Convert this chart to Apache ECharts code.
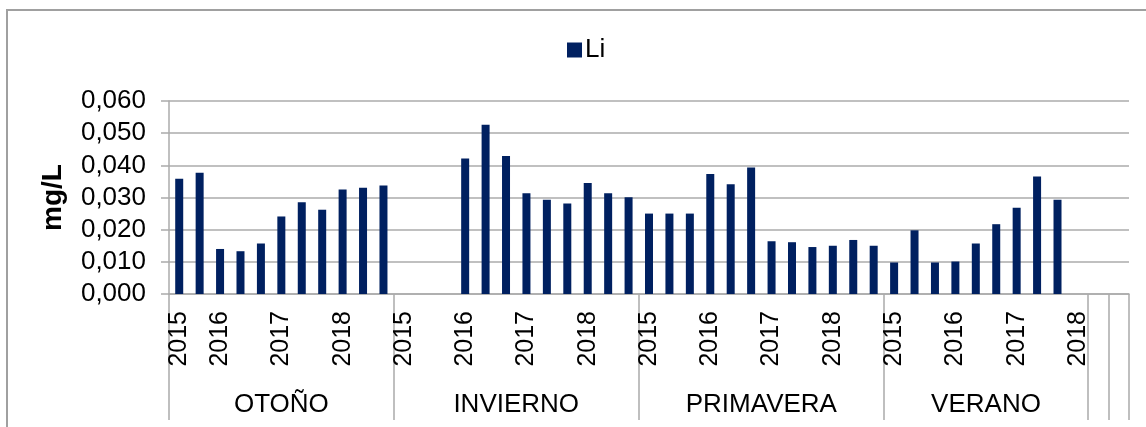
<!DOCTYPE html>
<html>
<head>
<meta charset="utf-8">
<script src="https://cdn.jsdelivr.net/npm/echarts@6/dist/echarts.min.js"></script>
<style>
  html, body { margin: 0; padding: 0; background: #fff; overflow: hidden; }
  #chart { width: 1146px; height: 427px; }
</style>
</head>
<body>
<div id="chart"></div>
<script>
// estaciones (grupos del eje X)
const seasons = ['OTOÑO', 'INVIERNO', 'PRIMAVERA', 'VERANO']

// etiquetas de año por estación ('' = sin etiqueta)
const otonoYears = ['2015', '', '2016', '', '', '2017', '', '', '2018', '', '']
const inviernoYears = ['2015', '', '', '2016', '', '', '2017', '', '', '2018', '', '']
const primaveraYears = ['2015', '', '', '2016', '', '', '2017', '', '', '2018', '', '']
const veranoYears = ['2015', '', '', '2016', '', '', '2017', '', '', '2018']
const emptyYears = ['', '']

// Li (mg/L)
const otonoLi = [0.0358, 0.0377, 0.0140, 0.0133, 0.0157, 0.0241, 0.0285, 0.0262, 0.0325, 0.0330, 0.0337]
const inviernoLi = [null, null, null, 0.0421, 0.0526, 0.0429, 0.0313, 0.0293, 0.0281, 0.0345, 0.0313, 0.0301]
const primaveraLi = [0.0250, 0.0250, 0.0250, 0.0373, 0.0341, 0.0393, 0.0164, 0.0161, 0.0146, 0.0150, 0.0168, 0.0150]
const veranoLi = [0.0098, 0.0198, 0.0098, 0.0101, 0.0157, 0.0217, 0.0268, 0.0365, 0.0293, null]
const emptyLi = [null, null]

const yTicks = [0, 0.01, 0.02, 0.03, 0.04, 0.05, 0.06]

const groups = [otonoYears, inviernoYears, primaveraYears, veranoYears, emptyYears]
const allYears = [].concat(...groups)
const allLi = [].concat(otonoLi, inviernoLi, primaveraLi, veranoLi, emptyLi)
const categories = allYears.map((y, i) => i + '|' + y)

// limites de grupo (indice de categoria) y centros de grupo
const bounds = []
const centers = []
let start = 0
groups.forEach((g, gi) => {
  bounds.push(start)
  if (gi < seasons.length) centers.push(start + g.length / 2)
  start += g.length
})
bounds.push(allYears.length - 1)

const FONT = 'Liberation Sans'
const GRID_COLOR = '#ababab'

const chart = echarts.init(document.getElementById('chart'))
chart.setOption({
  animation: false,
  backgroundColor: '#fff',
  textStyle: { fontFamily: FONT },
  graphic: [{
    type: 'rect',
    silent: true,
    shape: { x: 7, y: 10, width: 1200, height: 500 },
    style: { fill: 'none', stroke: '#a0a0a0', lineWidth: 2 }
  }],
  legend: {
    left: 567,
    top: 37,
    padding: 0,
    itemWidth: 15,
    itemHeight: 15,
    itemGap: 10,
    icon: 'rect',
    textStyle: { fontFamily: FONT, fontSize: 26, color: '#000', padding: [0, 0, 0, -2] },
    data: ['Li']
  },
  grid: { left: 169, right: 17, top: 101, bottom: 133, containLabel: false },
  xAxis: [{
    type: 'category',
    data: categories,
    boundaryGap: true,
    axisLine: { show: true, lineStyle: { color: GRID_COLOR, width: 1.5 } },
    axisTick: {
      show: true,
      length: 126,
      interval: (index) => bounds.indexOf(index) !== -1,
      lineStyle: { color: GRID_COLOR, width: 1.5 }
    },
    axisLabel: {
      interval: 0,
      rotate: 90,
      margin: 17,
      fontFamily: FONT,
      fontSize: 25,
      color: '#000',
      formatter: (v, i) => allYears[i]
    },
    splitLine: { show: false }
  }, {
    type: 'value',
    position: 'bottom',
    min: 0,
    max: allYears.length,
    axisLine: { show: false },
    axisTick: { show: false },
    splitLine: { show: false },
    axisLabel: {
      customValues: centers,
      margin: 98,
      fontFamily: FONT,
      fontSize: 26,
      color: '#000',
      formatter: (v) => seasons[centers.indexOf(v)] || ''
    }
  }],
  yAxis: {
    type: 'value',
    min: yTicks[0],
    max: yTicks[yTicks.length - 1],
    interval: 0.01,
    name: 'mg/L',
    nameLocation: 'middle',
    nameRotate: 90,
    nameGap: 102,
    nameTextStyle: { fontFamily: FONT, fontSize: 28, fontWeight: 'bold', color: '#000' },
    axisLine: { show: true, lineStyle: { color: GRID_COLOR, width: 1.5 } },
    axisTick: { show: true, inside: false, length: 8, lineStyle: { color: GRID_COLOR, width: 1.5 } },
    axisLabel: {
      margin: 23,
      fontFamily: FONT,
      fontSize: 26,
      color: '#000',
      formatter: (v) => v.toFixed(3).replace('.', ',')
    },
    splitLine: { show: true, lineStyle: { color: GRID_COLOR, width: 1.5 } }
  },
  series: [{
    name: 'Li',
    type: 'bar',
    xAxisIndex: 0,
    barWidth: 8,
    itemStyle: { color: '#002060' },
    data: allLi
  }]
})
</script>
</body>
</html>
